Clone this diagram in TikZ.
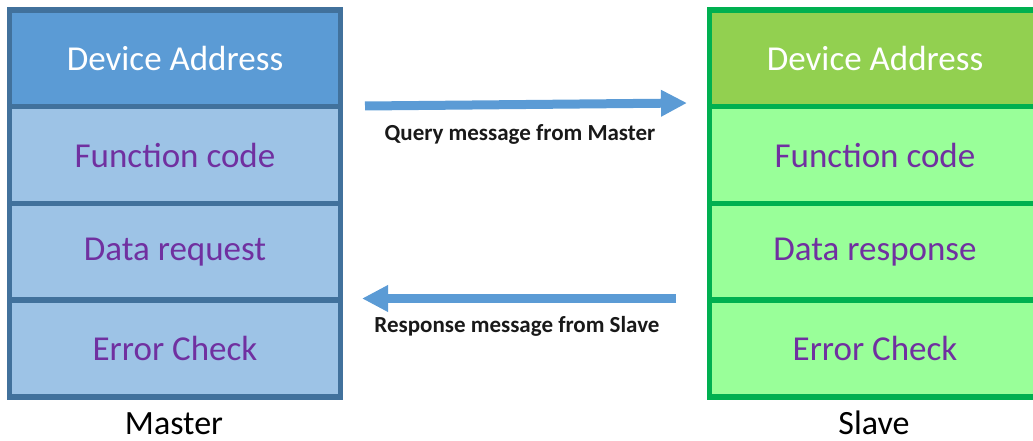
\documentclass[tikz,border=0pt]{standalone}
\usepackage{fontspec}
\setmainfont{Carlito}
\usetikzlibrary{arrows.meta}
\definecolor{mtop}{HTML}{5B9BD5}
\definecolor{mrow}{HTML}{9DC3E6}
\definecolor{mbord}{HTML}{41719C}
\definecolor{stop}{HTML}{92D050}
\definecolor{srow}{HTML}{99FF99}
\definecolor{sbord}{HTML}{00B050}
\definecolor{txt}{HTML}{7030A0}
\definecolor{arr}{HTML}{5B9BD5}
\tikzset{
  rowbox/.style={rectangle, minimum width=331pt, minimum height=96.75pt, inner sep=0pt, line width=5.5pt,
    font=\fontsize{35}{40}\selectfont, text=txt},
  mbox/.style={rowbox, draw=mbord, fill=mrow},
  sbox/.style={rowbox, draw=sbord, fill=srow},
  toprow/.style={text=white},
  msgarrow/.style={draw=arr, line width=9pt, -{Triangle[length=26pt,width=25pt]}},
  msglabel/.style={font=\bfseries\fontsize{23}{27}\selectfont, text=black!90},
  sidelabel/.style={font=\fontsize{34}{38}\selectfont, text=black, inner sep=0pt, anchor=base}
}
\begin{document}
\begin{tikzpicture}[x=1pt,y=-1pt]
\useasboundingbox (0,0) rectangle (1033,441);
\begin{scope}
\clip (0,0) rectangle (1033,441);
% Master
\node[mbox, fill=mtop, toprow] (m1) at (175,58.4) {Device Address};
\node[mbox] (m2) at (175,155.1) {Function code};
\node[mbox] (m3) at (175,251.9) {Data request};
\node[mbox] (m4) at (175,348.6) {Error Check};
% Slave
\node[sbox, fill=stop, toprow] (s1) at (875,58.4) {Device Address};
\node[sbox] (s2) at (875,155.1) {Function code};
\node[sbox] (s3) at (875,251.9) {Data response};
\node[sbox] (s4) at (875,348.6) {Error Check};
\end{scope}
% arrows
\coordinate (qa) at (365,106);
\coordinate (qb) at (687,103);
\coordinate (ra) at (676,298.5);
\coordinate (rb) at (362,298.5);
\draw[msgarrow] (qa) -- (qb);
\draw[msgarrow] (ra) -- (rb);
\node[msglabel] (ql) at (520,134) {Query message from Master};
\node[msglabel] (rl) at (517,326) {Response message from Slave};
\node[sidelabel] (ml) at (174,434) {Master};
\node[sidelabel] (sl) at (874,434) {Slave};
\end{tikzpicture}
\end{document}
